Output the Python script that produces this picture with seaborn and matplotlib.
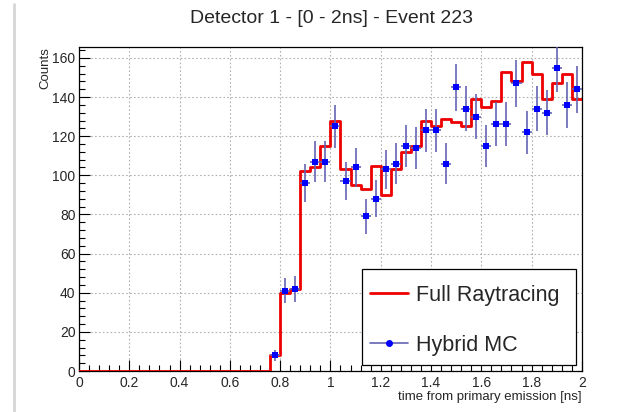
import numpy as np
import pandas as pd
import seaborn as sns
import matplotlib
matplotlib.use("Agg")
import matplotlib.pyplot as plt
from matplotlib.lines import Line2D
from matplotlib.patches import Rectangle
from matplotlib.ticker import MultipleLocator

# ---- data ----
bin_edges = np.round(np.arange(0, 2.0001, 0.04), 2)
bin_centers = np.round((bin_edges[:-1] + bin_edges[1:]) / 2, 2)

# Full Raytracing histogram (bins 0.76 .. 2.00), zero before
raytracing_nonzero = [8, 40, 42, 102, 104, 115, 128, 103, 95, 93, 105, 90,
                      103, 112, 115, 128, 125, 129, 127, 125, 139, 135, 138,
                      153, 148, 158, 152, 139, 147, 152, 139]
# Hybrid MC points (bins 0.76 .. 2.00)
hybrid_nonzero = [8, 41, 42, 96, 107, 107, 125, 97, 104, 79, 88, 103, 106,
                  115, 114, 123, 123, 106, 145, 134, 130, 115, 126, 126, 147,
                  122, 134, 132, 155, 136, 144]

n_zero = len(bin_centers) - len(raytracing_nonzero)
raytracing = [0] * n_zero + raytracing_nonzero
hybrid_x = bin_centers[n_zero:]
hybrid_y = np.array(hybrid_nonzero, dtype=float)
hybrid_err = np.sqrt(hybrid_y)

title = "Detector 1 - [0 - 2ns] - Event 223"
xlabel = "time from primary emission [ns]"
ylabel = "Counts"
labels = ["Full Raytracing", "Hybrid MC"]

# ---- plot ----
sns.set_theme(style="white")
plt.rcParams["font.family"] = ["Liberation Sans", "DejaVu Sans"]

fig = plt.figure(figsize=(6.27, 4.12), dpi=100)
ax = fig.add_axes([0.126, 0.0995, 0.802, 0.787])

df = pd.DataFrame({"t": bin_centers, "w": raytracing})
sns.histplot(data=df, x="t", weights="w", binwidth=0.04, binrange=(0, 2),
             element="step", fill=False, color="#ee0000", linewidth=2.0,
             ax=ax, zorder=3)

ax.errorbar(hybrid_x, hybrid_y, yerr=hybrid_err, xerr=0.02, fmt="none",
            ecolor="#6464b4", elinewidth=1.2, zorder=4)
sns.scatterplot(x=hybrid_x, y=hybrid_y, marker="s", s=14, color="#0000ff",
                edgecolor="#0000ff", linewidth=0, ax=ax, zorder=5)

ax.set_xlim(0, 2)
ax.set_ylim(0, 165.7)
ax.xaxis.set_major_locator(MultipleLocator(0.2))
ax.xaxis.set_minor_locator(MultipleLocator(0.04))
ax.yaxis.set_major_locator(MultipleLocator(20))
ax.yaxis.set_minor_locator(MultipleLocator(4))
ax.set_xticks(np.round(np.arange(0, 2.01, 0.2), 1))
ax.set_xticklabels(["0", "0.2", "0.4", "0.6", "0.8", "1", "1.2", "1.4", "1.6", "1.8", "2"])
ax.tick_params(which="both", direction="in", color="black", top=False, right=False,
               bottom=True, left=True, labelsize=10)
ax.tick_params(which="major", length=8, width=0.8)
ax.tick_params(axis="y", which="major", pad=2.5)
ax.tick_params(axis="x", which="major", pad=3.5)
ax.tick_params(which="minor", length=4, width=0.8)
ax.grid(True, which="major", linestyle=(0, (1.5, 2)), color="#b0b0b0", linewidth=0.8)
ax.set_axisbelow(True)
for s in ax.spines.values():
    s.set_visible(True)
    s.set_color("black")
    s.set_linewidth(0.9)

ax.set_xlabel(xlabel, fontsize=9.5, loc="right", labelpad=1)
ax.set_ylabel(ylabel, fontsize=9.5, loc="top", labelpad=1)
fig.text(0.5295, 0.955, title, ha="center", va="center", fontsize=14)

# legend box
ax.add_patch(Rectangle((0.563, 0.020), 0.4255, 0.2955, transform=ax.transAxes,
                       facecolor="white", edgecolor="black", linewidth=0.9,
                       zorder=9, clip_on=False))
handles = [Line2D([], [], color="#ee0000", linewidth=2.0),
           Line2D([], [], color="#6464b4", linewidth=1.2, marker="o",
                  markersize=4, markerfacecolor="#0000ff", markeredgecolor="#0000ff")]
leg = ax.legend(handles, labels, loc="upper left",
                bbox_to_anchor=(0.5785, 0.2655),
                fontsize=15.5, frameon=False,
                handlelength=1.75, labelspacing=1.33, borderpad=0,
                handletextpad=0.4, borderaxespad=0)
leg.set_zorder(10)

fig.add_artist(Line2D([0.022, 0.022], [0.0, 0.99], transform=fig.transFigure,
                      color="#d6d6d6", linewidth=2.0))

fig.savefig("out.png", dpi=100)
